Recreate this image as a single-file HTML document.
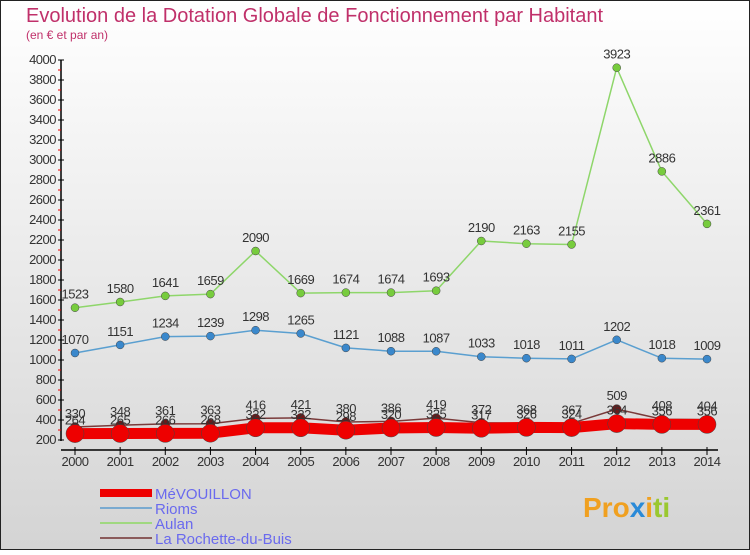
<!DOCTYPE html>
<html><head><meta charset="utf-8"><style>
html,body{margin:0;padding:0}
body{width:750px;height:550px;overflow:hidden;font-family:"Liberation Sans",sans-serif}
</style></head><body>
<svg width="750" height="550" xmlns="http://www.w3.org/2000/svg">
<defs><linearGradient id="bg" x1="0" y1="0" x2="0" y2="1"><stop offset="0" stop-color="#ffffff"/><stop offset="1" stop-color="#d4d4d4"/></linearGradient></defs>
<rect x="0.5" y="0.5" width="749" height="549" fill="url(#bg)" stroke="#222"/>
<text x="26" y="22" font-size="20" fill="#c0306a">Evolution de la Dotation Globale de Fonctionnement par Habitant</text>
<text x="26" y="39" font-size="12" fill="#c0306a">(en € et par an)</text>
<g id="axes"></g>
<g id="series"></g>
<g id="legend"></g>
<text x="583" y="517" font-size="28" font-weight="bold" fill="#f0a020">Pro<tspan fill="#2a8ad8">x</tspan>i<tspan fill="#9ac830">ti</tspan></text>
</svg>
<script>
const years=[2000,2001,2002,2003,2004,2005,2006,2007,2008,2009,2010,2011,2012,2013,2014];
const mevouillon=[264,265,266,268,322,322,298,320,325,317,326,324,364,356,356];
const rioms=[1070,1151,1234,1239,1298,1265,1121,1088,1087,1033,1018,1011,1202,1018,1009];
const aulan=[1523,1580,1641,1659,2090,1669,1674,1674,1693,2190,2163,2155,3923,2886,2361];
const rochette=[330,348,361,363,416,421,380,386,419,372,368,367,509,408,404];
const yTicks=[200,400,600,800,1000,1200,1400,1600,1800,2000,2200,2400,2600,2800,3000,3200,3400,3600,3800,4000];
const NS="http://www.w3.org/2000/svg";
function X(i){return 75+i*(707-75)/(years.length-1);}
function Y(v){return 440-(v-200)*380/3800;}
function el(t,a,p){const e=document.createElementNS(NS,t);for(const k in a)e.setAttribute(k,a[k]);p.appendChild(e);return e;}
const ax=document.getElementById('axes');
let l=el('line',{x1:61,y1:60,x2:61,y2:441,stroke:'#000','stroke-width':1.5},ax);


l=el('line',{x1:61,y1:450,x2:718,y2:450,stroke:'#000','stroke-width':1.5},ax);


yTicks.forEach((v,i)=>{
 el('line',{x1:58,y1:Y(v),x2:64,y2:Y(v),stroke:'#000'},ax);
 if(i<yTicks.length-1) el('line',{x1:58,y1:Y(v+100),x2:61,y2:Y(v+100),stroke:'#e00'},ax);
 const t=el('text',{x:56,y:Y(v)+4,'font-size':13,'text-anchor':'end',fill:'#333','letter-spacing':'-0.5'},ax);
 t.textContent=v;
 
 
});
years.forEach((y,i)=>{
 el('line',{x1:X(i),y1:447,x2:X(i),y2:455,stroke:'#000'},ax);
 const t=el('text',{x:X(i),y:466,'font-size':13,'text-anchor':'middle',fill:'#333','letter-spacing':'-0.5'},ax);
 t.textContent=y;
 
 
});
const sg=document.getElementById('series');
function series(name,data,color,w,r,dot,labels){
 const g=el('g',{},sg);
 
 
 const p=el('polyline',{points:data.map((v,i)=>X(i)+','+Y(v)).join(' '),fill:'none',stroke:color,'stroke-width':w,'stroke-linejoin':'round'},g);
 
 
 data.forEach((v,i)=>{
  const c=el('circle',{cx:X(i),cy:Y(v),r:r,fill:dot,stroke:'#444','stroke-width':0.5},g);
  
  
  if(labels){
   const t=el('text',{x:X(i),y:Y(v)-9,'font-size':13,'text-anchor':'middle',fill:'#333','letter-spacing':'-0.5'},g);
   t.textContent=v;
   
   
  }
 });
}
series('aulan',aulan,'#8ed66a',1.5,4,'#77cc3d',true);
series('rioms',rioms,'#5a9fd0',1.5,4,'#3a88cc',true);
series('rochette',rochette,'#7a3a3a',1.5,4.5,'#6a1a1a',true);
series('mevouillon',mevouillon,'#ee0000',11,9,'#ee0000',false);
mevouillon.forEach((v,i)=>{
 const t=el('text',{x:X(i),y:Y(v)-9,'font-size':13,'text-anchor':'middle',fill:'#333','letter-spacing':'-0.5'},sg);
 t.textContent=v;
 
 
});
const lg=document.getElementById('legend');
const legendNames=['MéVOUILLON','Rioms','Aulan','La Rochette-du-Buis'];
const legendColors=['#ee0000','#7aaad0','#a0d880','#8a5a5a'];
const legendWidths=[8,2,2,2];
legendNames.forEach((n,i)=>{
 const y=493+i*15;
 const g=el('g',{},lg);
 
 
 el('line',{x1:100,y1:y,x2:152,y2:y,stroke:legendColors[i],'stroke-width':legendWidths[i]},g);
 const t=el('text',{x:155,y:y+6,'font-size':15,fill:'#6a6aee'},g);
 t.textContent=n;
});
</script>
</body></html>
